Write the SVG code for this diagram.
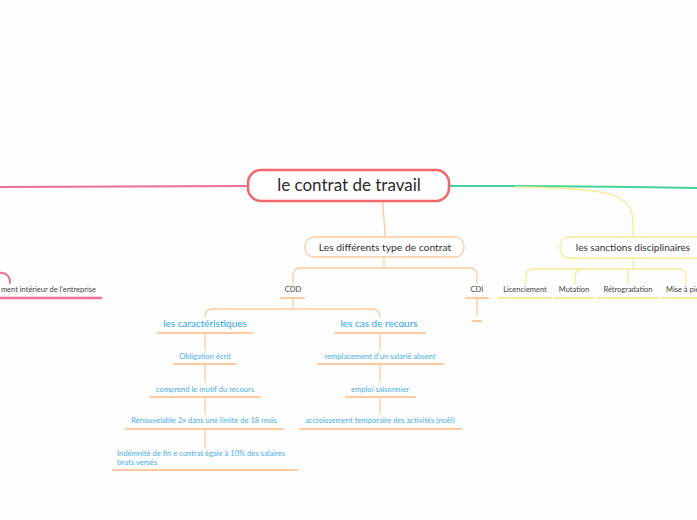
<svg xmlns="http://www.w3.org/2000/svg" width="697" height="520" viewBox="0 0 697 520">
<style>
text{font-family:Lato,"Open Sans","Liberation Sans",sans-serif;}
.c{fill:none;stroke-linecap:round;stroke-linejoin:round;}
.pk{stroke:#f06c9b;stroke-width:2;}
.gr{stroke:#43d596;stroke-width:2;}
.or{stroke:#fdc9a0;stroke-width:1.3;}
.ye{stroke:#f9eb93;stroke-width:1.3;}
.ul-or{stroke:#fdc9a0;stroke-width:2;}
.ul-ye{stroke:#f9eb93;stroke-width:2;}
.ul-pk{stroke:#f06c9b;stroke-width:2.6;}
.t7{font-size:7.5px;fill:#444;text-anchor:middle;}
.b7{font-size:7.6px;fill:#4aaee6;text-anchor:middle;}
.b10{font-size:10px;fill:#2ea6ec;text-anchor:middle;}
.t10{font-size:10px;fill:#333;text-anchor:middle;}
</style>
<rect width="697" height="520" fill="#fdfdfd"/>
<g id="connectors">
<path class="c pk" d="M248,186 C160,186 60,187 0,187"/>
<path class="c pk" d="M-2,273 C6,272 10,276 10,283"/>
<path class="c gr" d="M449,186 C560,186 640,187 697,188"/>
<path class="c ye" d="M515,187 C605,188 633,192 633,222 L633,237"/>
<path class="c or" d="M383,201 C383,220 385,220 385,237"/>
<path class="c or" d="M384,257 L384,268"/>
<path class="c or" d="M293,283 L293,276 Q293,268 301,268 L469,268 Q477,268 477,276 L477,283"/>
<path class="c or" d="M293,298 L293,309"/>
<path class="c or" d="M205,317 Q205,309 213,309 L372,309 Q380,309 380,317"/>
<path class="c or" d="M477,298 L477,316"/>
<path class="c or" d="M205,333 L205,350 M205,364 L205,382 M205,397 L205,414 M205,429 L205,447"/>
<path class="c or" d="M380,333 L380,350 M380,364 L380,382 M380,397 L380,414"/>
<path class="c ye" d="M633,258 L633,269"/>
<path class="c ye" d="M526,284 L526,277 Q526,269 534,269 L678,269 Q686,269 686,277 L686,284"/>
<path class="c ye" d="M575,284 L575,277 Q575,269 583,269"/>
<path class="c ye" d="M628,284 L628,269"/>
</g>
<g id="root">
<rect x="248" y="170" width="201" height="31" rx="13" fill="#fff" stroke="#f2676a" stroke-width="2.5"/>
<text x="349" y="191" style="font-size:17px;fill:#2b2b2b;text-anchor:middle">le contrat de travail</text>
</g>
<g id="n-reglement">
<text x="96" y="292" style="font-size:7.5px;fill:#444;text-anchor:end">ment intérieur de l'entreprise</text>
<line class="c ul-pk" x1="0" y1="298" x2="101" y2="298"/>
</g>
<g id="n-types">
<rect x="305" y="237" width="159" height="20" rx="9" fill="#fff" stroke="#fdc9a0" stroke-width="1.3"/>
<text class="t10" x="385" y="251" style="font-size:10.3px">Les différents type de contrat</text>
</g>
<g id="n-cdd">
<text class="t7" x="293" y="292">CDD</text>
<line class="c ul-or" x1="281" y1="298" x2="304" y2="298"/>
</g>
<g id="n-cdi">
<text class="t7" x="477" y="292">CDI</text>
<line class="c ul-or" x1="466" y1="298" x2="488" y2="298"/>
</g>
<g id="n-cdi-empty">
<line class="c ul-or" x1="473" y1="321" x2="481" y2="321"/>
</g>
<g id="n-caract">
<text class="b10" x="205" y="327">les caractéristiques</text>
<line class="c ul-or" x1="158" y1="333" x2="252" y2="333"/>
</g>
<g id="n-recours">
<text class="b10" x="379" y="327">les cas de recours</text>
<line class="c ul-or" x1="335" y1="333" x2="425" y2="333"/>
</g>
<g id="n-oblig">
<text class="b7" x="205" y="359">Obligation écrit</text>
<line class="c ul-or" x1="174" y1="364" x2="236" y2="364"/>
</g>
<g id="n-motif">
<text class="b7" x="205" y="392">comprend le motif du recours</text>
<line class="c ul-or" x1="150" y1="397" x2="260" y2="397"/>
</g>
<g id="n-renouv">
<text class="b7" x="204" y="423">Renouvelable 2x dans une limite de 18 mois</text>
<line class="c ul-or" x1="126" y1="429" x2="283" y2="429"/>
</g>
<g id="n-indem">
<text x="117" y="456" style="font-size:7.6px;fill:#4aaee6">Indémnité de fin e contrat égale à 10% des salaires</text>
<text x="117" y="465" style="font-size:7.6px;fill:#4aaee6">bruts versés</text>
<line class="c ul-or" x1="113" y1="470" x2="297" y2="470"/>
</g>
<g id="n-rempl">
<text class="b7" x="380" y="359">remplacement d'un salarié absent</text>
<line class="c ul-or" x1="318" y1="364" x2="443" y2="364"/>
</g>
<g id="n-saison">
<text class="b7" x="380" y="392">emploi saisonnier</text>
<line class="c ul-or" x1="346" y1="397" x2="415" y2="397"/>
</g>
<g id="n-accr">
<text class="b7" x="380" y="423">accroissement temporaire des activités (noël)</text>
<line class="c ul-or" x1="300" y1="429" x2="461" y2="429"/>
</g>
<g id="n-sanctions">
<rect x="560" y="237" width="150" height="21" rx="9" fill="#fff" stroke="#f9eb93" stroke-width="1.3"/>
<text class="t10" x="633" y="251">les sanctions disciplinaires</text>
</g>
<g id="n-licen">
<text class="t7" x="525" y="292">Licenciement</text>
<line class="c ul-ye" x1="499" y1="298" x2="551" y2="298"/>
</g>
<g id="n-mutation">
<text class="t7" x="574" y="292">Mutation</text>
<line class="c ul-ye" x1="555" y1="298" x2="593" y2="298"/>
</g>
<g id="n-retro">
<text class="t7" x="628" y="292">Rétrogradation</text>
<line class="c ul-ye" x1="597" y1="298" x2="658" y2="298"/>
</g>
<g id="n-mise">
<text x="666" y="292" style="font-size:7.5px;fill:#444">Mise à pied</text>
<line class="c ul-ye" x1="662" y1="298" x2="700" y2="298"/>
</g>
</svg>
